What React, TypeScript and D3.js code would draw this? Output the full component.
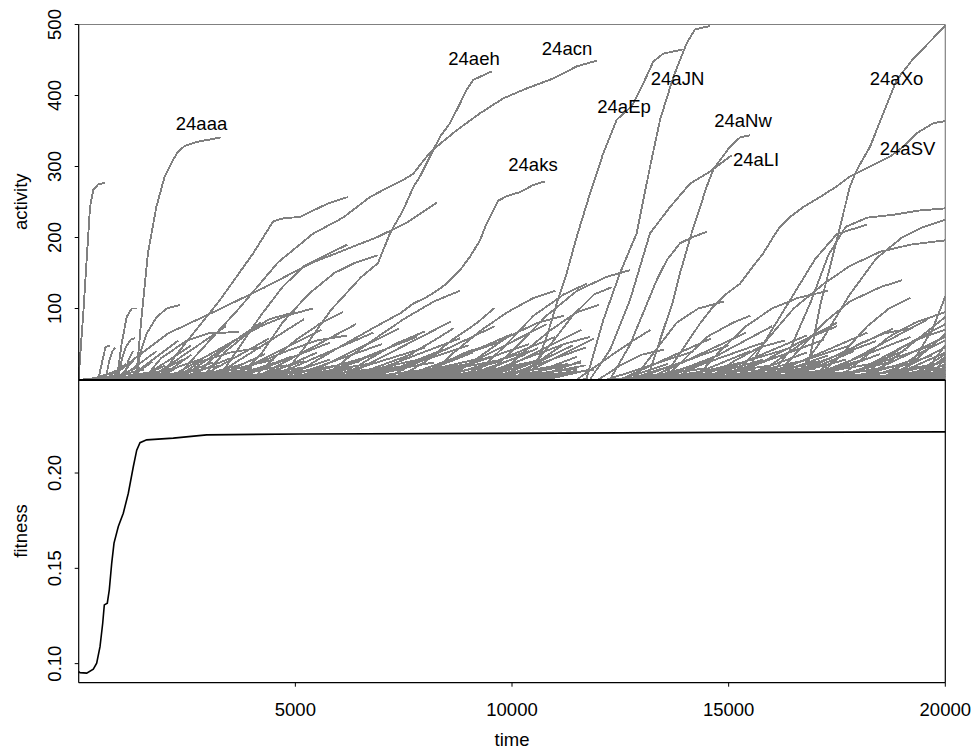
import React from "react";
import * as d3 from "d3";

// ---- activity trajectories (time, activity) ----
const spike0: number[][] = [[0,0],[30,30],[106,93],[198,182],[261,243],[337,267],[452,275],[607,277]];
const lineAaa: number[][] = [[1250,0],[1329,4],[1445,84],[1599,178],[1791,243],[1985,286],[2176,309],[2292,321],[2446,329],[2753,335],[3291,341]];
const lineC: number[][] = [[1700,0],[2000,12],[2216,32],[3261,112],[4030,178],[4491,223],[4722,227],[5108,229],[5754,248],[6215,257]];
const lineAeh: number[][] = [[4600,0],[4669,2],[5223,46],[5823,98],[6515,144],[6908,164],[7185,206],[7492,239],[7723,271],[7877,286],[8108,314],[8339,342],[8570,361],[8761,384],[8955,408],[9107,422],[9532,434]];
const lineAcn: number[][] = [[2200,0],[2800,40],[3700,100],[4600,165],[5400,205],[6100,228],[6723,257],[7185,272],[7492,281],[7723,290],[8032,314],[8263,328],[8724,351],[9262,375],[9800,396],[10340,410],[10954,424],[11494,441],[11955,449]];
const lineF: number[][] = [[700,0],[1300,30],[2066,65],[3215,98],[4300,130],[5368,164],[6908,201],[7600,222],[8263,249]];
const lineAks: number[][] = [[4700,0],[5300,20],[6000,45],[6723,70],[7108,83],[7415,93],[7723,107],[8032,116],[8263,125],[8493,135],[8800,154],[9031,173],[9262,196],[9416,220],[9569,238],[9684,252],[9878,258],[10185,264],[10492,274],[10762,279]];
const lineAEp: number[][] = [[10300,0],[10416,4],[10571,23],[10801,60],[11032,107],[11263,150],[11494,201],[11801,262],[12108,319],[12417,366],[12763,385],[13031,417],[13262,448],[13493,459],[13954,465]];
const lineAJN: number[][] = [[11650,0],[11725,2],[12108,84],[12493,150],[12878,206],[13187,300],[13418,366],[13724,426],[14033,474],[14224,493],[14572,498]];
const lineANw: number[][] = [[13071,0],[13187,13],[13262,27],[13418,56],[13571,84],[13724,112],[13878,150],[14032,182],[14187,215],[14341,243],[14496,272],[14647,296],[14802,309],[15033,328],[15264,341],[15495,344]];
const lineALI: number[][] = [[11800,0],[12263,42],[12724,112],[13187,206],[13649,243],[14111,276],[14572,293],[15072,316]];
const lineG2: number[][] = [[12263,0],[12724,49],[13340,140],[13571,168],[13878,192],[14185,201],[14494,208]];
const lineAXo: number[][] = [[16700,0],[16802,9],[17108,103],[17493,196],[17800,272],[17956,295],[18264,328],[18571,375],[18879,422],[19263,452],[19648,476],[19971,497],[20000,499]];
const lineASV: number[][] = [[13450,0],[13571,9],[14341,79],[14647,103],[14955,121],[15264,135],[15495,154],[15802,178],[16033,201],[16186,215],[16418,229],[16724,243],[17108,257],[17493,272],[17800,286],[18264,300],[18726,314],[19032,328],[19341,347],[19724,361],[20000,364]];
const lineR1: number[][] = [[15900,0],[16400,40],[16900,110],[17300,175],[17700,215],[18200,228],[18800,232],[19400,238],[20000,241]];
const lineR2: number[][] = [[16500,0],[17200,60],[17800,120],[18400,170],[19000,200],[19500,215],[20000,225]];
const lineR3: number[][] = [[15000,0],[15800,50],[16500,100],[17200,135],[17800,160],[18500,180],[19200,190],[20000,196]];
const lineR4: number[][] = [[15300,0],[15900,60],[16500,120],[17000,170],[17500,205],[18190,218]];
const lineR5: number[][] = [[18800,0],[19300,30],[19700,70],[20000,117]];

// mid-sized trajectories
const midLines: number[][][] = [
  [[880,0],[992,51],[1108,88],[1223,100],[1339,100]],
  [[1339,0],[1415,37],[1569,65],[1800,88],[2031,100],[2338,105]],
  [[450,0],[560,30],[620,46],[720,48]],
  [[620,0],[700,25],[780,40],[850,45]],
  [[900,0],[1000,30],[1080,45],[1200,56],[1300,58]],
  [[1050,0],[1150,28],[1250,40]],
  [[1500,0],[1900,30],[2500,55],[3000,65],[3693,67]],
  [[2600,0],[3100,30],[3600,55],[4200,75],[4800,90],[5400,100]],
  [[2800,0],[3400,40],[4000,70],[4400,85],[5000,95]],
  [[3200,0],[3700,45],[4200,90],[4700,130],[5200,160],[5700,175],[6200,190]],
  [[3600,0],[4200,35],[4700,80],[5300,120],[5900,150],[6400,165],[6900,175]],
  [[4000,0],[4500,30],[5000,55],[5600,80],[6100,95]],
  [[3400,0],[4000,20],[4800,40],[5500,55],[6200,62]],
  [[2200,0],[2800,25],[3500,38],[4200,45]],
  [[1800,0],[2300,18],[2900,30]],
  [[5600,0],[6200,30],[6900,60],[7500,85],[8200,110],[8800,125]],
  [[6000,0],[6600,25],[7300,50],[8000,68]],
  [[6800,0],[7500,30],[8200,55],[8650,72]],
  [[7300,0],[8000,25],[8600,55],[9200,80],[9600,101]],
  [[8000,0],[8600,35],[9300,70],[9900,95],[10500,115],[11000,125]],
  [[9000,0],[9800,45],[10500,90],[11200,120],[11725,135]],
  [[9300,0],[10000,40],[10800,90],[11500,125],[12200,145],[12725,154]],
  [[8500,0],[9200,30],[9900,60],[10600,80],[11200,90]],
  [[9600,0],[10200,35],[10900,70],[11500,95],[12000,105]],
  [[7700,0],[8300,20],[9000,40],[9600,50]],
  [[10000,0],[10600,25],[11200,50],[11800,60]],
  [[10200,0],[10900,50],[11400,90],[11900,120],[12300,130]],
  [[11500,0],[12200,30],[12800,55],[13200,70]],
  [[12800,0],[13300,40],[13800,80],[14300,100],[14900,110]],
  [[13500,0],[14000,30],[14500,60],[15100,80],[15500,90]],
  [[14200,0],[14800,40],[15400,75],[16000,100],[16600,115],[17300,125]],
  [[15500,0],[16200,30],[16900,60],[17500,75]],
  [[16000,0],[16600,40],[17200,80],[17800,110],[18500,130],[19000,140]],
  [[16800,0],[17400,25],[18000,50],[18600,65],[19200,72]],
  [[17500,0],[18100,30],[18700,60],[19300,80],[20000,95]],
  [[18000,0],[18500,25],[19000,45],[19500,60],[20000,70]],
  [[18500,0],[19000,20],[19500,40],[20000,55]],
  [[17000,0],[17600,35],[18200,75],[18700,100],[19200,115]],
  [[14500,0],[15100,25],[15700,45],[16300,55]],
  [[12000,0],[12500,20],[13000,35],[13500,42]],
];

// short trajectories: [start time, end time, final activity]
const shortLines: number[][] = [
  [100,1200,8],[300,900,12],[500,1500,14],[600,1100,22],[700,1400,18],[800,1600,10],[900,1300,30],[1000,2200,16],
  [1100,1700,25],[1200,2600,12],[1300,2000,20],[1400,2900,15],[1500,2400,28],[1600,3000,10],[1700,3300,20],[1800,2600,35],
  [1900,3600,14],[2000,3100,24],[2100,3900,18],[2300,3500,30],[2400,4200,12],[2500,3800,22],[2600,4500,28],[2700,4000,16],
  [2900,4800,20],[3000,4300,36],[3100,5000,12],[3300,4600,25],[3400,5300,18],[3500,4900,32],[3700,5600,14],[3800,5200,26],
  [3900,6000,20],[4100,5500,38],[4200,6300,15],[4400,5800,28],[4500,6700,22],[4600,6100,12],[4800,6800,34],[4900,7200,18],
  [5100,6500,26],[5200,7500,14],[5400,7000,40],[5500,7600,20],[5700,8000,30],[5800,7300,15],[6000,8200,24],[6100,7700,36],
  [6300,8500,18],[6400,8000,28],[6500,8900,12],[6700,8400,42],[6800,9000,22],[6900,8600,16],[7100,9300,30],[7200,8800,20],
  [7400,9600,26],[7500,9100,38],[7600,9800,14],[7800,9500,32],[7900,10200,20],[8100,9700,25],[8200,10400,40],[8400,10000,16],
  [8500,10700,28],[8700,10300,35],[8800,11000,18],[8900,10600,44],[9100,11300,22],[9200,10800,30],[9400,11500,15],[9500,11000,36],
  [9700,11600,24],[9800,11400,48],[10000,11700,20],[10100,11500,32],[10300,11900,14],[10400,11600,26],
  [12400,14000,12],[12500,13600,22],[12600,14500,16],[12700,14200,30],[12900,15000,10],[13000,14600,26],[13100,15200,18],[13300,14800,35],
  [13400,15600,14],[13600,15300,24],[13700,16000,20],[13900,15500,40],[14000,16300,12],[14200,15800,28],[14300,16500,18],[14500,16100,32],
  [14600,17000,15],[14800,16600,25],[14900,17200,20],[15100,16800,38],[15200,17500,14],[15400,17100,26],[15600,17800,18],[15700,17300,34],
  [15900,18000,12],[16000,17700,28],[16200,18300,22],[16300,17900,40],[16500,18600,16],[16600,18200,30],[16800,19000,20],[16900,18500,36],
  [17100,19200,14],[17200,18800,26],[17400,19500,18],[17500,19100,42],[17700,19800,22],[17800,19400,30],[18000,20000,16],[18100,19700,34],
  [18300,20000,25],[18400,20000,12],[18600,20000,38],[18700,20000,20],[18900,20000,28],[19000,20000,14],[19200,20000,22],[19300,20000,32],
  [19400,20000,10],[19500,20000,18],[19600,20000,8],[19700,20000,14],[19800,20000,6],
  [300,1000,15],[900,1800,40],[1100,2300,55],[1400,2600,48],[1600,3400,75],[2000,3800,62],[2300,4200,80],[2700,4400,58],
  [3000,5200,85],[3300,5600,70],[3600,5800,52],[4000,6400,78],[4300,6800,66],[4700,7000,50],[5000,7400,72],[5300,7800,60],
  [5600,8000,45],[6000,8600,82],[6300,8800,58],[6600,9000,48],[7000,9600,75],[7300,9800,55],[7600,10000,64],[8000,10400,50],
  [8300,10800,78],[8600,11000,60],[9000,11300,52],[9300,11600,70],[9600,11700,45],[10000,11900,58],
  [12200,14200,40],[12500,14600,58],[12800,15000,48],[13100,15400,66],[13400,15800,52],[13700,16000,75],[14000,16400,44],
  [14400,16800,62],[14700,17200,56],[15000,17500,80],[15400,17800,48],[15700,18200,66],[16000,18400,54],[16300,18800,72],
  [16700,19200,60],[17000,19600,85],[17300,19800,50],[17600,20000,78],[17900,20000,60],[18200,20000,88],[18500,20000,45],
  [18800,20000,64],[19100,20000,36],[19400,20000,48],[19600,20000,30],
];

// trajectories that hardly leave zero: [start time, end time, final activity]
const baseLines: number[][] = [
  [200,1500,6],[400,2000,4],[700,1900,8],[1000,2800,5],[1200,2400,9],[1500,3200,6],[1700,2900,4],[2000,3800,8],
  [2200,3400,5],[2500,4300,7],[2800,4000,10],[3000,4800,5],[3300,4500,8],[3500,5300,6],[3800,5000,4],[4000,5900,9],
  [4300,5500,6],[4600,6400,8],[4900,6100,5],[5200,7000,7],[5500,6700,10],[5800,7600,5],[6100,7300,8],[6400,8200,6],
  [6700,7900,4],[7000,8800,9],[7300,8500,6],[7600,9400,7],[7900,9100,5],[8200,10000,8],[8500,9700,10],[8800,10600,6],
  [9100,10300,4],[9400,11200,9],[9700,10900,7],[10000,11500,12],[10300,11400,8],[10600,11500,10],[10800,11800,14],
  [12300,13800,6],[12600,14400,8],[12900,14100,5],[13200,15000,9],[13500,14700,6],[13800,15600,7],[14100,15300,4],
  [14400,16200,8],[14700,15900,6],[15000,16800,9],[15300,16500,5],[15600,17400,7],[15900,17100,10],[16200,18000,6],
  [16500,17700,8],[16800,18600,5],[17100,18300,9],[17400,19200,7],[17700,18900,6],[18000,19800,8],[18300,19500,10],
  [18600,20000,7],[18900,20000,9],[19100,20000,5],[19300,20000,12],[19500,20000,4],[19600,20000,9],[19700,20000,6],
  [19800,20000,3],[19900,20000,5],
];

// named trajectories and their labels
const labelNames = ["24aaa","24aeh","24acn","24aJN","24aEp","24aNw","24aLI","24aks","24aXo","24aSV"];
const labelTimes = [2834,9123,11270,13820,12586,15332,15632,10484,18875,19129];
const labelActs = [351,443,457,415,375,356,301,293,415,316];

// ---- population fitness ----
const fitTime = [0,30,185,337,415,492,554,591,660,706,762,815,914,1029,1145,1260,1339,1415,1569,2183,2954,5107,9700,15000,20000];
const fitValue = [0.0958,0.0953,0.0950,0.0971,0.1002,0.1089,0.1212,0.1308,0.1317,0.1387,0.1527,0.1632,0.1719,0.1789,0.1894,0.2033,0.2120,0.2159,0.2174,0.2183,0.2200,0.2205,0.2208,0.2213,0.2216];

const actTicks = [100, 200, 300, 400, 500];
const fitTicks = [0.10, 0.15, 0.20];
const timeTicks = [5000, 10000, 15000, 20000];

const FONT = "'Liberation Sans', Arial, Helvetica, sans-serif";

export default function App() {
  const x = d3.scaleLinear().domain([0, 20000]).range([78.7, 945.3]);
  const yA = d3.scaleLinear().domain([0, 500]).range([379.5, 24.5]);
  const yF = d3.scaleLinear().domain([0.09, 0.2488]).range([682.7, 380]);

  const actLine = d3.line<number[]>().x((d) => x(d[0])).y((d) => yA(d[1]));
  const fitLine = d3.line<number>().x((_, i) => x(fitTime[i])).y((d) => yF(d));

  const major = [spike0, lineAaa, lineC, lineAeh, lineAcn, lineF, lineAks, lineAEp, lineAJN, lineANw, lineALI, lineG2, lineAXo, lineASV, lineR1, lineR2, lineR3, lineR4, lineR5];
  const toPts = (s: number[]) => [[s[0], 0], [s[1], s[2]]];
  const all = [...baseLines.map(toPts), ...shortLines.map(toPts), ...midLines, ...major];

  const left = x(0), right = x(20000);
  const grey = "#808080";

  return (
    <svg width={974} height={753} style={{ position: "absolute", left: 0, top: 0, background: "#fff" }} fontFamily={FONT}>
      <rect x={0} y={0} width={974} height={753} fill="#fff" />
      {/* activity panel */}
      <g>
        {all.map((pts, i) => (
          <path key={i} d={actLine(pts) || ""} fill="none" stroke={grey} strokeWidth={1.9} shapeRendering="crispEdges" />
        ))}
        <line x1={left} x2={right} y1={yA(500)} y2={yA(500)} stroke={grey} strokeWidth={1.2} />
        <line x1={right} x2={right} y1={yA(500)} y2={380} stroke={grey} strokeWidth={1.2} />
        <line x1={left} x2={left} y1={yA(500)} y2={380} stroke="#000" strokeWidth={1.2} />
        {actTicks.map((t) => (
          <g key={t}>
            <line x1={left - 4} x2={left} y1={yA(t)} y2={yA(t)} stroke="#000" strokeWidth={1} />
            <text transform={`translate(61,${yA(t)}) rotate(-90)`} textAnchor="middle" fontSize={18.5}>{t}</text>
          </g>
        ))}
        {labelNames.map((n, i) => (
          <text key={n} x={x(labelTimes[i])} y={yA(labelActs[i])} textAnchor="middle" fontSize={18.5}>{n}</text>
        ))}
        <text transform="translate(27,201.7) rotate(-90)" textAnchor="middle" fontSize={18.5}>activity</text>
      </g>
      {/* fitness panel */}
      <g>
        <path d={fitLine(fitValue) || ""} fill="none" stroke="#000" strokeWidth={1.6} />
        <line x1={left} x2={right} y1={380} y2={380} stroke="#000" strokeWidth={1.8} />
        <line x1={left} x2={left} y1={380} y2={682.7} stroke="#000" strokeWidth={1.2} />
        <line x1={right} x2={right} y1={380} y2={682.7} stroke="#000" strokeWidth={1.2} />
        <line x1={left} x2={right} y1={682.7} y2={682.7} stroke="#000" strokeWidth={1.2} />
        {fitTicks.map((t) => (
          <g key={t}>
            <line x1={left - 4} x2={left} y1={yF(t)} y2={yF(t)} stroke="#000" strokeWidth={1} />
            <text transform={`translate(61,${yF(t)}) rotate(-90)`} textAnchor="middle" fontSize={18.5}>{t.toFixed(2)}</text>
          </g>
        ))}
        {timeTicks.map((t) => (
          <g key={t}>
            <line x1={x(t)} x2={x(t)} y1={682.7} y2={686.7} stroke="#000" strokeWidth={1} />
            <text x={x(t)} y={716} textAnchor="middle" fontSize={18.5}>{t}</text>
          </g>
        ))}
        <text transform="translate(27,531) rotate(-90)" textAnchor="middle" fontSize={18.5}>fitness</text>
        <text x={512} y={746} textAnchor="middle" fontSize={18.5}>time</text>
      </g>
    </svg>
  );
}
